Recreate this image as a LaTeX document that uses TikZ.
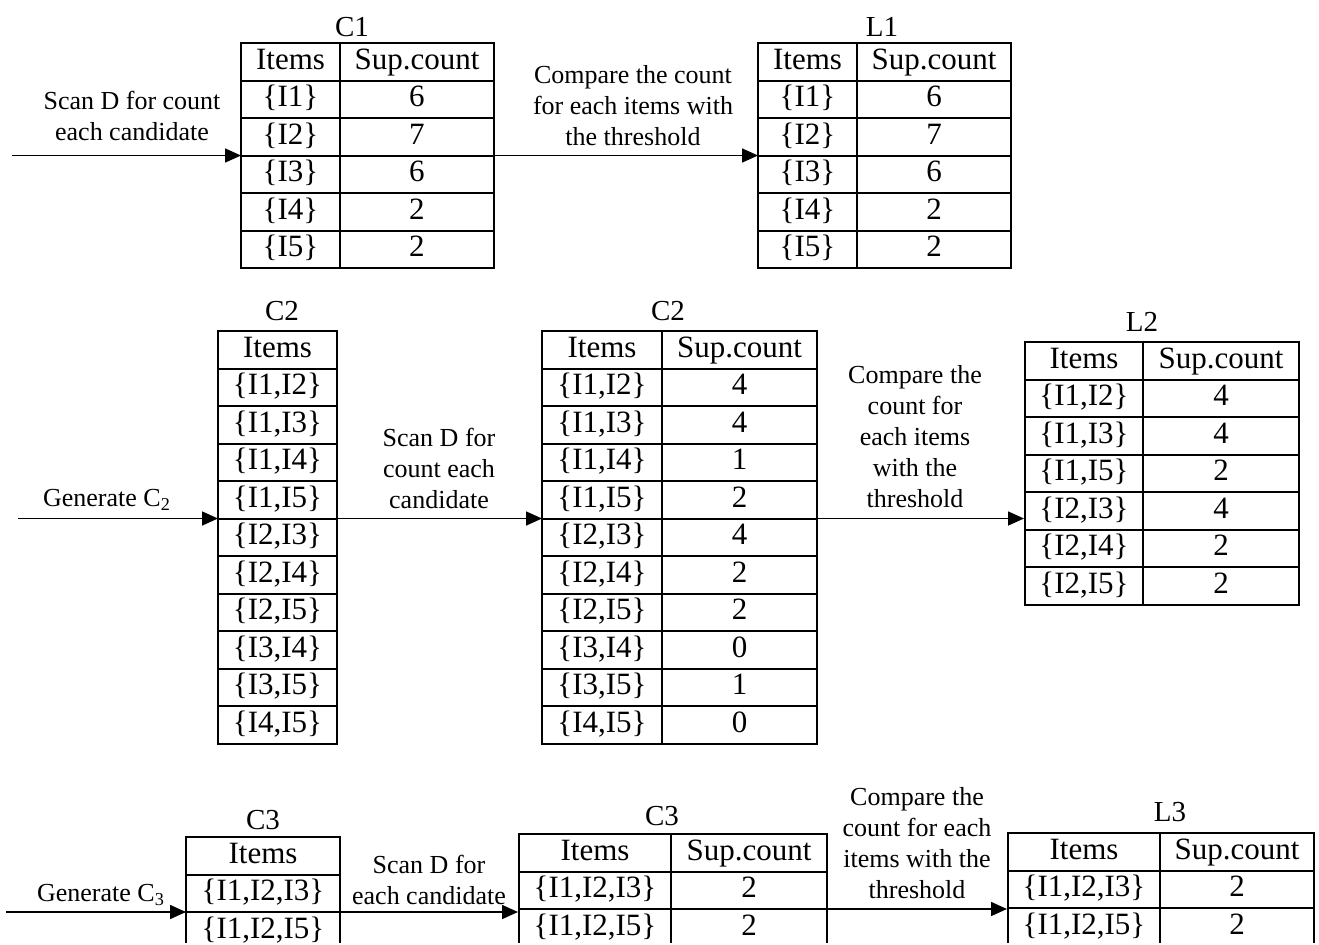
\documentclass[tikz,border=0pt]{standalone}
\usepackage{fontspec}
\setmainfont{Liberation Serif}
\usetikzlibrary{matrix,arrows.meta}

\begin{document}
\begin{tikzpicture}[
	x=0.5pt, y=-0.5pt,
	tbl/.style={matrix of nodes, anchor=north west, inner sep=0, outer sep=0, row sep=-1pt, column sep=-1pt,
		nodes={draw, line width=1pt, minimum height=18.75pt, text height=11pt, text depth=3.5pt, inner sep=0, font=\fontsize{15.5}{18}\selectfont}},
	ttl/.style={font=\fontsize{14.5}{17}\selectfont, inner sep=0},
	lbl/.style={font=\fontsize{13}{15.5}\selectfont, align=center, inner sep=0},
	arr/.style={line width=0.8pt, -{Triangle[length=8pt,width=7pt]}}
]
\useasboundingbox (0,0) rectangle (1319,944);
\clip (0,0) rectangle (1319,942.5);

% first pass: C1 -> L1
\matrix[tbl, column 1/.style={nodes={minimum width=49.5pt}}, column 2/.style={nodes={minimum width=77pt}}] (c1) at (240,42) {
	Items & Sup.count \\
	\{I1\} & 6 \\
	\{I2\} & 7 \\
	\{I3\} & 6 \\
	\{I4\} & 2 \\
	\{I5\} & 2 \\
};
\matrix[tbl, column 1/.style={nodes={minimum width=49.5pt}}, column 2/.style={nodes={minimum width=77pt}}] (l1) at (757,42) {
	Items & Sup.count \\
	\{I1\} & 6 \\
	\{I2\} & 7 \\
	\{I3\} & 6 \\
	\{I4\} & 2 \\
	\{I5\} & 2 \\
};
\node[ttl] (t-c1) at (352,27) {C1};
\node[ttl] (t-l1) at (882,27) {L1};

\node[lbl] (scan1) at (132,116) {Scan D for count\\each candidate};
\node[lbl] (cmp1) at (633,106) {Compare the count\\for each items with\\the threshold};

\coordinate (in1) at (12,0);
\draw[arr] (in1 |- c1-4-1.north west) -- (c1-4-1.north west);
\draw[arr] (c1-4-2.north east) -- (l1-4-1.north west);

% second pass: C2 -> L2
\matrix[tbl, column 1/.style={nodes={minimum width=59.5pt}}] (c2i) at (217,330) {
	Items \\
	\{I1,I2\} \\
	\{I1,I3\} \\
	\{I1,I4\} \\
	\{I1,I5\} \\
	\{I2,I3\} \\
	\{I2,I4\} \\
	\{I2,I5\} \\
	\{I3,I4\} \\
	\{I3,I5\} \\
	\{I4,I5\} \\
};
\matrix[tbl, column 1/.style={nodes={minimum width=60pt}}, column 2/.style={nodes={minimum width=77.5pt}}] (c2) at (541,330) {
	Items & Sup.count \\
	\{I1,I2\} & 4 \\
	\{I1,I3\} & 4 \\
	\{I1,I4\} & 1 \\
	\{I1,I5\} & 2 \\
	\{I2,I3\} & 4 \\
	\{I2,I4\} & 2 \\
	\{I2,I5\} & 2 \\
	\{I3,I4\} & 0 \\
	\{I3,I5\} & 1 \\
	\{I4,I5\} & 0 \\
};
\matrix[tbl, column 1/.style={nodes={minimum width=59pt}}, column 2/.style={nodes={minimum width=78pt}}] (l2) at (1024,341) {
	Items & Sup.count \\
	\{I1,I2\} & 4 \\
	\{I1,I3\} & 4 \\
	\{I1,I5\} & 2 \\
	\{I2,I3\} & 4 \\
	\{I2,I4\} & 2 \\
	\{I2,I5\} & 2 \\
};
\node[ttl] (t-c2i) at (282,311) {C2};
\node[ttl] (t-c2) at (668,311) {C2};
\node[ttl] (t-l2) at (1142,322) {L2};

\node[lbl] (gen2) at (107,500) {Generate C\textsubscript{2}};
\node[lbl] (scan2) at (439,468) {Scan D for\\count each\\candidate};
\node[lbl] (cmp2) at (915,437) {Compare the\\count for\\each items\\with the\\threshold};

\coordinate (in2) at (18,0);
\draw[arr] (in2 |- c2i-6-1.north west) -- (c2i-6-1.north west);
\draw[arr] (c2i-6-1.north east) -- (c2-6-1.north west);
\draw[arr] (c2-6-2.north east) -- (c2-6-2.north east -| l2.west);

% third pass: C3 -> L3
\matrix[tbl, column 1/.style={nodes={minimum width=77pt}}] (c3i) at (185,836) {
	Items \\
	\{I1,I2,I3\} \\
	\{I1,I2,I5\} \\
};
\matrix[tbl, column 1/.style={nodes={minimum width=76pt}}, column 2/.style={nodes={minimum width=78pt}}] (c3) at (518,833) {
	Items & Sup.count \\
	\{I1,I2,I3\} & 2 \\
	\{I1,I2,I5\} & 2 \\
};
\matrix[tbl, column 1/.style={nodes={minimum width=76pt}}, column 2/.style={nodes={minimum width=77pt}}] (l3) at (1007,832) {
	Items & Sup.count \\
	\{I1,I2,I3\} & 2 \\
	\{I1,I2,I5\} & 2 \\
};
\node[ttl] (t-c3i) at (263,820) {C3};
\node[ttl] (t-c3) at (662,816) {C3};
\node[ttl] (t-l3) at (1170,812) {L3};

\node[lbl] (gen3) at (101,895) {Generate C\textsubscript{3}};
\node[lbl] (scan3) at (429,880) {Scan D for\\each candidate};
\node[lbl] (cmp3) at (917,843) {Compare the\\count for each\\items with the\\threshold};

\coordinate (in3) at (6,0);
\draw[arr] (in3 |- c3i-3-1.north west) -- (c3i-3-1.north west);
\draw[arr] (c3i-3-1.north east) -- (c3i-3-1.north east -| c3.west);
\draw[arr] (c3-3-2.north east) -- (c3-3-2.north east -| l3.west);
\end{tikzpicture}
\end{document}
